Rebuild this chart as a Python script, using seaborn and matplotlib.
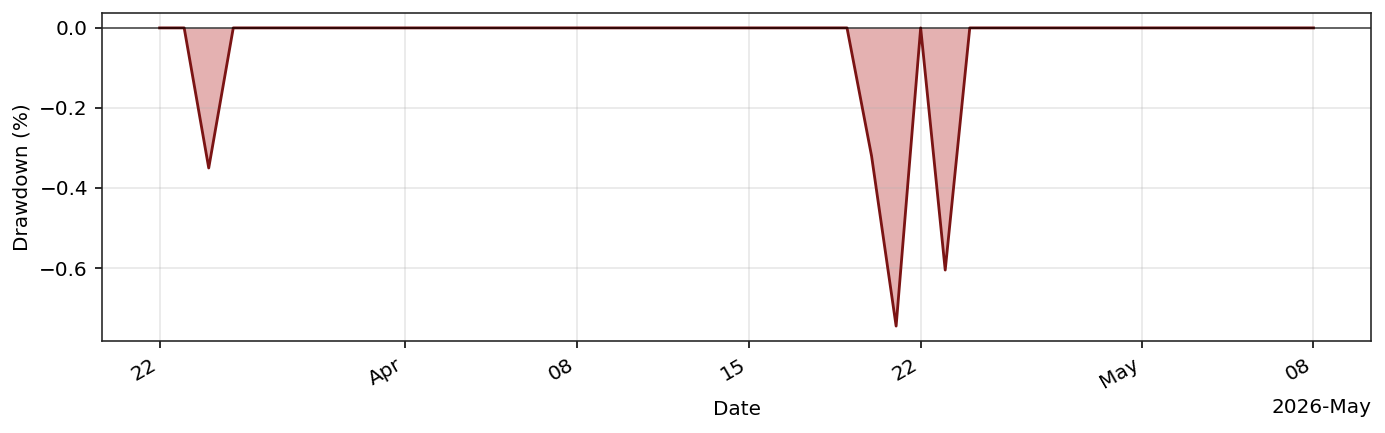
import numpy as np
import pandas as pd
import matplotlib
matplotlib.use("Agg")
import matplotlib.pyplot as plt
import matplotlib.dates as mdates
import seaborn as sns

# daily drawdown values, 2026-03-22 .. 2026-05-08
dates = pd.date_range("2026-03-22", "2026-05-08", freq="D")
dip_dates = ["2026-03-24", "2026-04-20", "2026-04-21", "2026-04-23"]
dip_values = [-0.35, -0.32, -0.745, -0.605]

drawdown = pd.Series(0.0, index=dates)
drawdown.loc[pd.to_datetime(dip_dates)] = dip_values
df = pd.DataFrame({"Date": dates, "Drawdown": drawdown.values})

plt.rcParams['font.family'] = ['DejaVu Sans']

fig, ax = plt.subplots(figsize=(1385 / 144, 433 / 144), dpi=144)
ax.fill_between(df["Date"], df["Drawdown"], 0, color="#b22222", alpha=0.35, linewidth=0)
sns.lineplot(data=df, x="Date", y="Drawdown", color="#7b1414", linewidth=1.4, ax=ax)
ax.axhline(0, color="black", linewidth=0.8, alpha=0.7)

locator = mdates.AutoDateLocator()
ax.xaxis.set_major_locator(locator)
ax.xaxis.set_major_formatter(mdates.ConciseDateFormatter(locator))
ax.grid(True, alpha=0.3)
ax.set_ylabel("Drawdown (%)")
ax.set_xlabel("Date")
for spine in ax.spines.values():
    spine.set_color("#222222")
fig.autofmt_xdate(rotation=30)
fig.subplots_adjust(left=0.0736, right=0.990, top=0.970, bottom=0.2125)
fig.savefig("out.png", dpi=144)
